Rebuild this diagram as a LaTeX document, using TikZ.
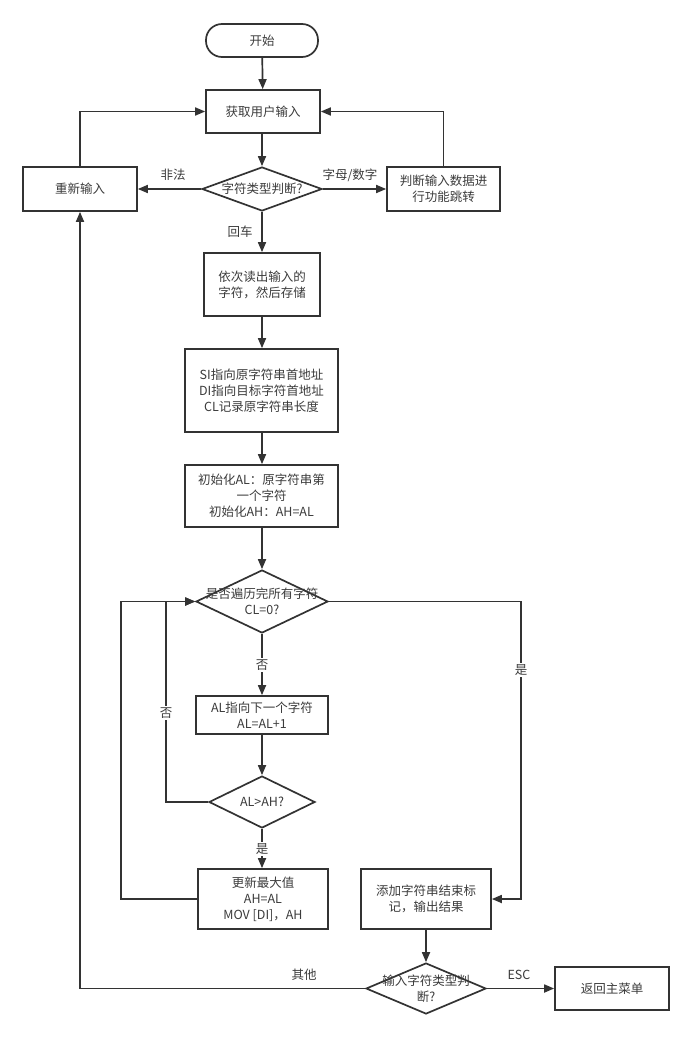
\documentclass[tikz,border=0pt]{standalone}
\usepackage{fontspec}
\setmainfont{Noto Sans CJK SC}
\usetikzlibrary{shapes.geometric,arrows.meta}
\definecolor{ln}{HTML}{333333}
\definecolor{tx}{HTML}{3C3C3C}
\begin{document}
\begin{tikzpicture}[x=1pt,y=-1pt,
  txt/.style={text=tx, font=\fontsize{12.5}{16}\selectfont, align=center},
  box/.style={draw=ln, line width=1.7pt, fill=white, inner sep=0pt, txt},
  dia/.style={draw=ln, line width=1.7pt, fill=white, diamond, inner sep=0pt, txt},
  arr/.style={draw=ln, line width=1.7pt, -{Triangle[length=10pt,width=8pt]}},
  lab/.style={txt, inner sep=1.5pt},
  labw/.style={txt, fill=white, inner sep=1.5pt}]
\useasboundingbox[fill=white] (0,0) rectangle (692,1038);

\node[box, rounded corners=16pt, minimum width=112pt, minimum height=33pt] (start) at (262,40.5) {开始};
\node[box, minimum width=114pt, minimum height=43pt] (get) at (263,111.5) {获取用户输入};
\node[dia, minimum width=120pt, minimum height=44pt,
      label={[txt]center:字符类型判断?}] (d1) at (262,189) {};
\node[box, minimum width=114pt, minimum height=44pt] (redo) at (80,189) {重新输入};
\node[box, minimum width=113pt, minimum height=44pt] (jump) at (443.5,189) {判断输入数据进\\行功能跳转};
\node[box, minimum width=116pt, minimum height=63pt] (read) at (262,284.5) {依次读出输入的\\字符，然后存储};
\node[box, minimum width=153pt, minimum height=83pt] (init1) at (261.5,390.5) {SI指向原字符串首地址\\DI指向目标字符首地址\\CL记录原字符串长度};
\node[box, minimum width=153pt, minimum height=62pt] (init2) at (261.5,496) {初始化AL：原字符串第\\一个字符\\初始化AH：AH=AL};
\node[dia, minimum width=132pt, minimum height=63pt,
      label={[txt]center:是否遍历完所有字符\\CL=0?}] (d2) at (262,601.5) {};
\node[box, minimum width=132pt, minimum height=38pt] (next) at (262,715) {AL指向下一个字符\\AL=AL+1};
\node[dia, minimum width=106pt, minimum height=52pt,
      label={[txt]center:AL>AH?}] (d3) at (262,802) {};
\node[box, minimum width=130pt, minimum height=60pt] (upd) at (263,899) {更新最大值\\AH=AL\\MOV [DI]，AH};
\node[box, minimum width=130pt, minimum height=60pt] (add) at (426,899) {添加字符串结束标\\记，输出结果};
\node[dia, minimum width=120pt, minimum height=51pt,
      label={[txt]center:输入字符类型判\\断?}] (d4) at (426,988.5) {};
\node[box, minimum width=114pt, minimum height=43pt] (ret) at (612,988.5) {返回主菜单};

\coordinate (l1) at (166,802);
\coordinate (l2) at (121,899);
\coordinate (r1) at (521,601.5);
\coordinate (b1) at (80,988.5);

\draw[arr] (start) -- (get);
\draw[arr] (get.south -| d1.north) -- (d1.north);
\draw[arr] (d1.west) -- (redo.east);
\draw[arr] (d1.east) -- (jump.west);
\draw[arr] (d1.south) -- (read.north);
\draw[arr] (redo.north) |- (get.west);
\draw[arr] (jump.north) |- (get.east);
\draw[arr] (read) -- (read |- init1.north);
\draw[arr] (init1.south -| d2.north) -- (init2.north -| d2.north);
\draw[arr] (init2.south -| d2.north) -- (d2.north);
\draw[arr] (d2.south) -- (next.north);
\draw[arr] (next.south) -- (d3.north);
\draw[arr] (d3.south) -- (d3.south |- upd.north);
\draw[arr] (d3.west) -- (l1) |- (d2.west);
\draw[arr] (upd.west) -- (l2) |- (d2.west);
\draw[arr] (d2.east) -- (r1) |- (add.east);
\draw[arr] (add.south) -- (d4.north);
\draw[arr] (d4.west) -- (b1) -- (redo.south);
\draw[arr] (d4.east) -- (ret.west);

\node[lab] (lfei) at (173,175) {非法};
\node[lab] (lzm) at (350,175) {字母/数字};
\node[lab] (lhc) at (240,232) {回车};
\node[labw] (lf1) at (262,665) {否};
\node[labw] (lf2) at (166,713) {否};
\node[labw] (ls1) at (262,849) {是};
\node[labw] (ls2) at (521,670) {是};
\node[lab] (lqt) at (304,975) {其他};
\node[lab] (lesc) at (519,975) {ESC};
\end{tikzpicture}
\end{document}
